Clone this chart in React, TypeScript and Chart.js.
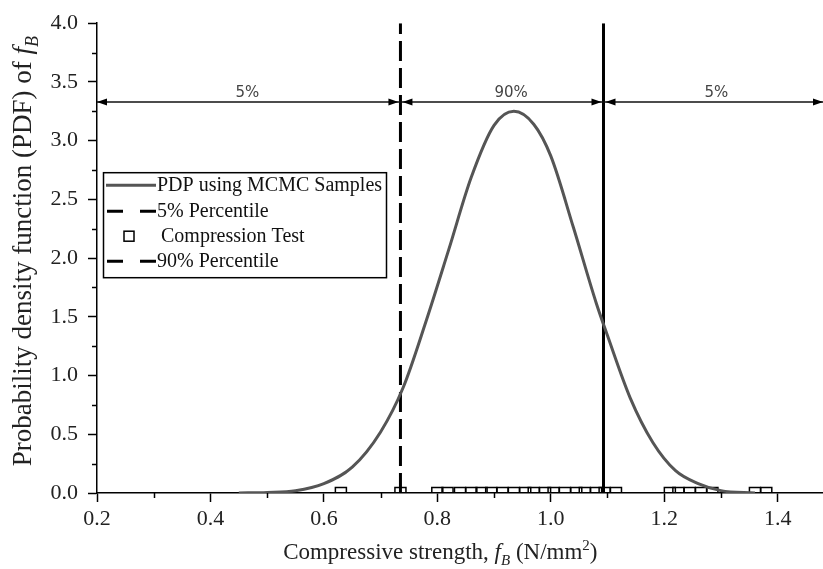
import React, { useEffect, useRef } from 'react';
import { Chart, registerables } from 'chart.js';

Chart.register(...registerables);

// ---- data ----
const pdfX = [0.45, 0.50, 0.55, 0.60, 0.65, 0.70, 0.74, 0.78, 0.82, 0.86, 0.90, 0.935, 0.97, 1.00, 1.04, 1.08, 1.10, 1.14, 1.18, 1.22, 1.26, 1.30, 1.36];
const pdfY = [0.00, 0.005, 0.02, 0.08, 0.22, 0.52, 0.90, 1.46, 2.07, 2.69, 3.13, 3.25, 3.14, 2.87, 2.26, 1.62, 1.34, 0.81, 0.43, 0.19, 0.08, 0.02, 0.00];

const compressionX = [0.63, 0.735, 0.80, 0.818, 0.84, 0.86, 0.878, 0.895, 0.915, 0.935, 0.955, 0.97, 0.99, 1.005, 1.025, 1.045, 1.06, 1.08, 1.095, 1.115, 1.21, 1.225, 1.245, 1.265, 1.285, 1.36, 1.38];
const compressionY = compressionX.map(() => 0);

const percentile5 = 0.735;
const percentile95 = 1.093;
const percentileLineY = [0, 4];

const xTicks = [0.2, 0.4, 0.6, 0.8, 1.0, 1.2, 1.4];
const xMinorTicks = [0.3, 0.5, 0.7, 0.9, 1.1, 1.3];
const yTicks = [0, 0.5, 1.0, 1.5, 2.0, 2.5, 3.0, 3.5, 4.0];
const yMinorTicks = [0.25, 0.75, 1.25, 1.75, 2.25, 2.75, 3.25, 3.75];

const arrowY = 3.33;
const arrowLabels = ['5%', '90%', '5%'];
const arrowLabelX = [0.465, 0.93, 1.292];

const legendLabels = ['PDP using MCMC Samples', '5% Percentile', 'Compression Test', '90% Percentile'];

const xMin = 0.2;
const xMax = 1.48;
const yMin = 0;
const yMax = 4;

const SERIF = '"Liberation Serif", "Times New Roman", serif';

type Part = { t: string; it?: boolean; sub?: boolean; sup?: boolean };

const xTitleParts: Part[] = [
  { t: 'Compressive strength, ' },
  { t: 'f', it: true },
  { t: 'B', it: true, sub: true },
  { t: ' (N/mm' },
  { t: '2', sup: true },
  { t: ')' },
];
const yTitleParts: Part[] = [
  { t: 'Probability density function (PDF) of ' },
  { t: 'f', it: true },
  { t: 'B', it: true, sub: true },
];

function partFont(p: Part, size: number) {
  const s = p.sub || p.sup ? Math.round(size * 0.65) : size;
  return `${p.it ? 'italic ' : ''}${s}px ${SERIF}`;
}

function drawRich(ctx: CanvasRenderingContext2D, parts: Part[], cx: number, baseY: number, size: number) {
  let total = 0;
  const widths = parts.map((p) => {
    ctx.font = partFont(p, size);
    const w = ctx.measureText(p.t).width;
    total += w;
    return w;
  });
  let x = cx - total / 2;
  ctx.textAlign = 'left';
  ctx.textBaseline = 'alphabetic';
  parts.forEach((p, i) => {
    ctx.font = partFont(p, size);
    let y = baseY;
    if (p.sub) y += size * 0.25;
    if (p.sup) y -= size * 0.4;
    ctx.fillText(p.t, x, y);
    x += widths[i];
  });
}

const overlayPlugin = {
  id: 'overlay',
  afterDraw(chart: any) {
    const { ctx, chartArea } = chart;
    const xs = chart.scales.x;
    const ys = chart.scales.y;
    ctx.save();

    // minor ticks
    ctx.strokeStyle = '#000';
    ctx.lineWidth = 1.5;
    xMinorTicks.forEach((v) => {
      const px = Math.round(xs.getPixelForValue(v)) + 0.5;
      ctx.beginPath();
      ctx.moveTo(px, chartArea.bottom);
      ctx.lineTo(px, chartArea.bottom + 5);
      ctx.stroke();
    });
    yMinorTicks.forEach((v) => {
      const py = Math.round(ys.getPixelForValue(v)) + 0.5;
      ctx.beginPath();
      ctx.moveTo(chartArea.left, py);
      ctx.lineTo(chartArea.left - 5, py);
      ctx.stroke();
    });

    // arrows
    const ay = ys.getPixelForValue(arrowY);
    const bounds = [xMin, percentile5, percentile95, xMax].map((v) => xs.getPixelForValue(v));
    ctx.strokeStyle = '#111';
    ctx.lineWidth = 1.5;
    ctx.beginPath();
    ctx.moveTo(bounds[0], ay);
    ctx.lineTo(bounds[3], ay);
    ctx.stroke();
    ctx.fillStyle = '#000';
    const head = (tipX: number, dir: number) => {
      ctx.beginPath();
      ctx.moveTo(tipX, ay);
      ctx.lineTo(tipX + dir * 10, ay - 3.5);
      ctx.lineTo(tipX + dir * 10, ay + 3.5);
      ctx.closePath();
      ctx.fill();
    };
    for (let i = 0; i < 3; i++) {
      head(bounds[i] + (i === 0 ? 0 : 2), 1);
      head(bounds[i + 1] - (i === 2 ? 0 : 2), -1);
    }
    ctx.fillStyle = '#444';
    ctx.font = '15px "DejaVu Sans", sans-serif';
    ctx.textAlign = 'center';
    ctx.textBaseline = 'alphabetic';
    arrowLabels.forEach((t, i) => {
      ctx.fillText(t, xs.getPixelForValue(arrowLabelX[i]), ay - 5);
    });

    // legend
    const lx = chartArea.left + 6;
    const ly = chartArea.top + 149;
    const lw = 283;
    const lh = 105;
    ctx.fillStyle = '#fff';
    ctx.fillRect(lx, ly, lw, lh);
    ctx.strokeStyle = '#000';
    ctx.lineWidth = 1.5;
    ctx.strokeRect(lx + 0.5, ly + 0.5, lw, lh);
    const rowY = [ly + 13, ly + 39, ly + 64, ly + 89];
    const sx0 = lx + 3;
    const sx1 = lx + 53;
    // row 1 solid gray
    ctx.strokeStyle = '#555';
    ctx.lineWidth = 3;
    ctx.beginPath();
    ctx.moveTo(sx0, rowY[0]);
    ctx.lineTo(sx1, rowY[0]);
    ctx.stroke();
    // rows 2 & 4 dashed
    ctx.strokeStyle = '#000';
    [rowY[1], rowY[3]].forEach((yy) => {
      ctx.beginPath();
      ctx.moveTo(sx0 + 1, yy);
      ctx.lineTo(sx0 + 17, yy);
      ctx.moveTo(sx1 - 16, yy);
      ctx.lineTo(sx1, yy);
      ctx.stroke();
    });
    // row 3 square
    ctx.lineWidth = 1.5;
    ctx.strokeRect(lx + 21, rowY[2] - 5, 10, 10);
    ctx.fillStyle = '#111';
    ctx.font = `20px ${SERIF}`;
    ctx.textAlign = 'left';
    ctx.textBaseline = 'middle';
    legendLabels.forEach((t, i) => {
      ctx.fillText(t, i === 2 ? lx + 58 : lx + 54, rowY[i] + 1);
    });

    // axis titles
    ctx.fillStyle = '#222';
    drawRich(ctx, xTitleParts, xs.getPixelForValue((xTicks[0] + xTicks[xTicks.length - 1]) / 2) + 3, chartArea.bottom + 66, 23);
    ctx.save();
    ctx.translate(31, (chartArea.top + chartArea.bottom) / 2 - 7);
    ctx.rotate(-Math.PI / 2);
    drawRich(ctx, yTitleParts, 0, 0, 27);
    ctx.restore();

    ctx.restore();
  },
};

export default function App() {
  const ref = useRef<HTMLCanvasElement | null>(null);
  useEffect(() => {
    if (!ref.current) return;
    const chart = new Chart(ref.current, {
      type: 'scatter',
      data: {
        datasets: [
          {
            label: legendLabels[0],
            data: pdfX.map((x, i) => ({ x, y: pdfY[i] })),
            showLine: true,
            borderColor: '#555',
            borderWidth: 3,
            pointRadius: 0,
            cubicInterpolationMode: 'monotone',
          },
          {
            label: legendLabels[1],
            data: percentileLineY.map((y) => ({ x: percentile5, y })),
            showLine: true,
            borderColor: '#000',
            borderWidth: 3,
            borderDash: [20, 7],
            pointRadius: 0,
          },
          {
            label: legendLabels[2],
            data: compressionX.map((x, i) => ({ x, y: compressionY[i] })),
            showLine: false,
            pointStyle: 'rect',
            pointRadius: 7.8,
            borderColor: '#000',
            borderWidth: 1.5,
            backgroundColor: 'rgba(0,0,0,0)',
          },
          {
            label: legendLabels[3],
            data: percentileLineY.map((y) => ({ x: percentile95, y })),
            showLine: true,
            borderColor: '#000',
            borderWidth: 3,
            pointRadius: 0,
          },
        ],
      } as any,
      options: {
        animation: false,
        responsive: false,
        devicePixelRatio: 1,
        layout: { autoPadding: false, padding: { top: 20, left: 0, right: 0, bottom: 0 } },
        plugins: { legend: { display: false }, tooltip: { enabled: false } },
        scales: {
          x: {
            type: 'linear',
            min: xMin,
            max: xMax,
            afterBuildTicks: (s: any) => {
              s.ticks = xTicks.map((v) => ({ value: v }));
            },
            afterFit: (s: any) => {
              s.height = 76;
            },
            border: { color: '#000', width: 1.5 },
            grid: { drawOnChartArea: false, drawTicks: true, tickLength: 9, tickColor: '#000', tickWidth: 1.5 },
            ticks: {
              font: { family: SERIF, size: 22 },
              color: '#222',
              padding: 4,
              maxRotation: 0,
              autoSkip: false,
              callback: (v: any) => Number(v).toFixed(1),
            },
          },
          y: {
            type: 'linear',
            min: yMin,
            max: yMax,
            afterBuildTicks: (s: any) => {
              s.ticks = yTicks.map((v) => ({ value: v }));
            },
            afterFit: (s: any) => {
              s.width = 97;
            },
            border: { color: '#000', width: 1.5 },
            grid: { drawOnChartArea: false, drawTicks: true, tickLength: 9, tickColor: '#000', tickWidth: 1.5 },
            ticks: {
              font: { family: SERIF, size: 22 },
              color: '#222',
              padding: 10,
              autoSkip: false,
              callback: (v: any) => Number(v).toFixed(1),
            },
          },
        },
      } as any,
      plugins: [overlayPlugin],
    });
    return () => chart.destroy();
  }, []);
  return (
    <div style={{ position: 'absolute', left: 0, top: 0, width: 823, height: 569, background: '#fff' }}>
      <canvas ref={ref} width={823} height={569} />
    </div>
  );
}
